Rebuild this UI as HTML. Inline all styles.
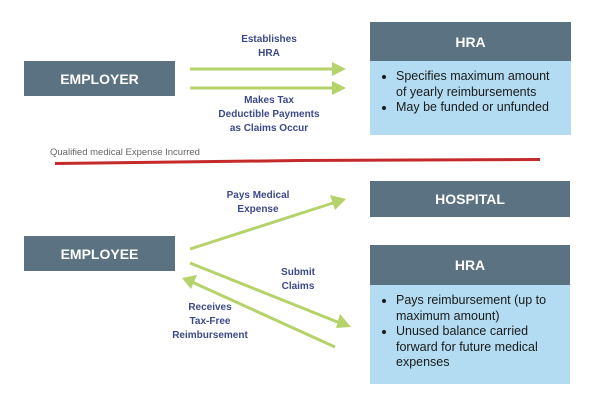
<!DOCTYPE html>
<html><head><style>
body{margin:0;width:600px;height:406px;background:#fff;position:relative;overflow:hidden;font-family:"Liberation Sans",sans-serif}
.h{position:absolute;background:#5a7282;color:#fff;font-weight:bold;font-size:14px;display:flex;align-items:center;justify-content:center}
.b{position:absolute;background:#b3dcf2;color:#1a1a1a;font-size:12.5px;line-height:15.5px;box-sizing:border-box}
.l{position:absolute;color:#3d4a8a;font-weight:bold;font-size:10px;line-height:14px;text-align:center}
ul{margin:0;padding:0 0 0 16px}
</style></head><body>
<div class="h" style="left:24px;top:61px;width:151px;height:35px">EMPLOYER</div>
<div class="h" style="left:370px;top:22px;width:201px;height:39px">HRA</div>
<div class="b" style="left:370px;top:61px;width:201px;height:74px;padding:8px 8px 0 10px"><ul><li>Specifies maximum amount of yearly reimbursements</li><li>May be funded or unfunded</li></ul></div>
<div class="l" style="left:209px;top:33px;width:120px">Establishes<br>HRA</div>
<div class="l" style="left:199px;top:94px;width:140px">Makes Tax<br>Deductible Payments<br>as Claims Occur</div>
<div style="position:absolute;left:50px;top:147px;font-size:9.5px;color:#666">Qualified medical Expense Incurred</div>
<div class="h" style="left:370px;top:181px;width:200px;height:36px">HOSPITAL</div>
<div class="h" style="left:24px;top:236px;width:151px;height:35px">EMPLOYEE</div>
<div class="h" style="left:370px;top:245px;width:200px;height:40px">HRA</div>
<div class="b" style="left:370px;top:285px;width:200px;height:99px;padding:8px 6px 0 10px"><ul><li>Pays reimbursement (up to maximum amount)</li><li>Unused balance carried forward for future medical expenses</li></ul></div>
<div class="l" style="left:208px;top:189px;width:100px">Pays Medical<br>Expense</div>
<div class="l" style="left:268px;top:266px;width:60px">Submit<br>Claims</div>
<div class="l" style="left:160px;top:301px;width:100px">Receives<br>Tax-Free<br>Reimbursement</div>
<svg width="600" height="406" style="position:absolute;left:0;top:0">
<g stroke="#b5d36a" stroke-width="3" fill="#b5d36a">
<line x1="190" y1="69" x2="335" y2="69"/><polygon points="332,62 346,69 332,76" stroke="none"/>
<line x1="190" y1="88" x2="335" y2="88"/><polygon points="332,81 346,88 332,95" stroke="none"/>
<line x1="190" y1="249" x2="336" y2="202"/><polygon points="330,195 346,199 335,210" stroke="none"/>
<line x1="190" y1="263" x2="340" y2="323"/><polygon points="340,314 351,327 336,328" stroke="none"/>
<line x1="335" y1="347" x2="192" y2="282"/><polygon points="182,278 197,275 191,289" stroke="none"/>
</g>
<path d="M55 162 L300 159 L540 158 L540 161 L300 162 L55 165Z" fill="#c42a2a"/>
</svg>
</body></html>
